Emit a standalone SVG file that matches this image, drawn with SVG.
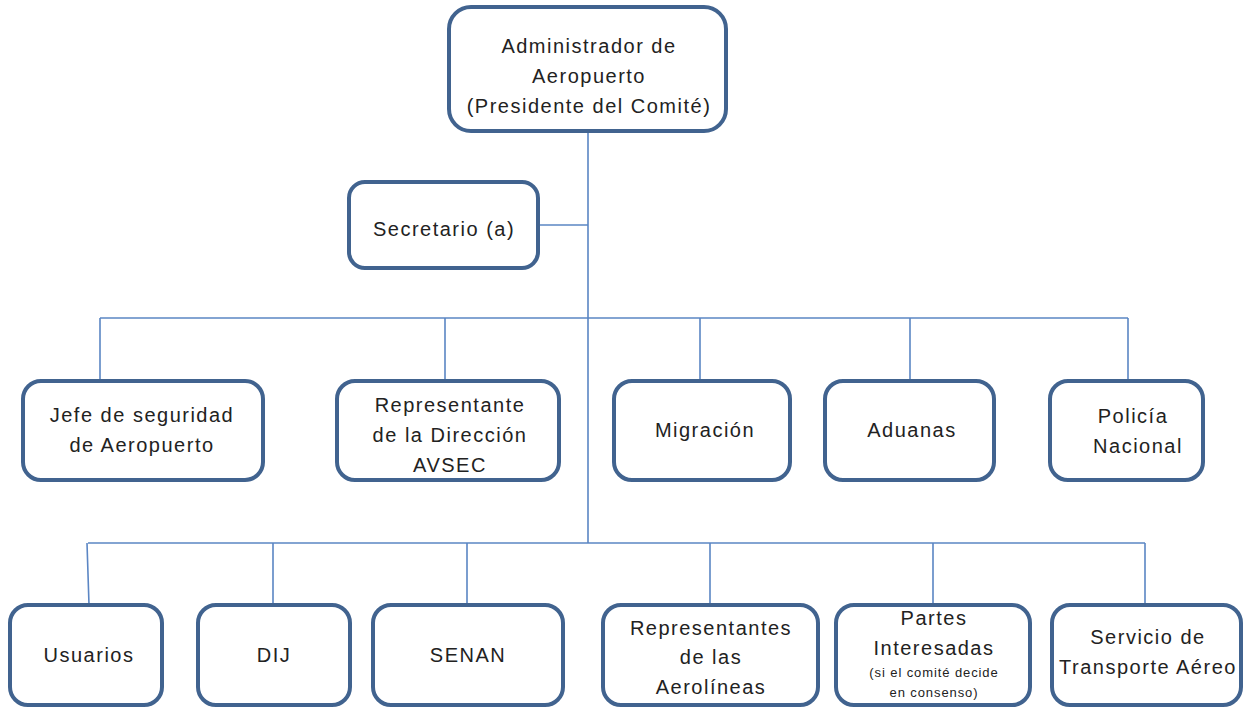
<svg xmlns="http://www.w3.org/2000/svg" width="1251" height="708" viewBox="0 0 1251 708">
<style>
.box{fill:#fff;stroke:#41638f;stroke-width:4}
.ln{stroke:#5b86c4;stroke-width:1.6;fill:none}
text{font-family:"Liberation Sans",Arial,sans-serif;font-size:20px;fill:#222;text-anchor:middle;letter-spacing:1.5px}
.sm{font-size:13px;letter-spacing:0.9px}
</style>
<rect width="1251" height="708" fill="#fff"/>
<g id="connectors">
<path class="ln" d="M588 131V543M538 225H588M100 318H1128M100 318V380M445 318V380M700 318V380M910 318V380M1128 318V380M88 543H1145M87 543L89 605M273 543V605M467 543V605M710 543V605M933 543V605M1145 543V605"/>
</g>
<g id="n-admin"><rect class="box" x="449" y="7" width="277" height="124" rx="22"/>
<text x="589" y="53">Administrador de</text><text x="589" y="83">Aeropuerto</text><text x="589" y="113">(Presidente del Comité)</text></g>
<g id="n-secretario"><rect class="box" x="349" y="182" width="189" height="86" rx="16"/>
<text x="444" y="236">Secretario (a)</text></g>
<g id="n-jefe"><rect class="box" x="23" y="381" width="240" height="99" rx="18"/>
<text x="142" y="422">Jefe de seguridad</text><text x="142" y="452">de Aeropuerto</text></g>
<g id="n-avsec"><rect class="box" x="337" y="381" width="222" height="99" rx="18"/>
<text x="450" y="412">Representante</text><text x="450" y="442">de la Dirección</text><text x="450" y="472">AVSEC</text></g>
<g id="n-migracion"><rect class="box" x="614" y="381" width="176" height="99" rx="18"/>
<text x="705" y="437">Migración</text></g>
<g id="n-aduanas"><rect class="box" x="825" y="381" width="169" height="99" rx="18"/>
<text x="912" y="437">Aduanas</text></g>
<g id="n-policia"><rect class="box" x="1050" y="381" width="153" height="99" rx="18"/>
<text x="1133" y="423">Policía</text><text x="1138" y="453">Nacional</text></g>
<g id="n-usuarios"><rect class="box" x="10" y="605" width="152" height="100" rx="18"/>
<text x="89" y="662">Usuarios</text></g>
<g id="n-dij"><rect class="box" x="198" y="605" width="152" height="100" rx="18"/>
<text x="274" y="662">DIJ</text></g>
<g id="n-senan"><rect class="box" x="373" y="605" width="190" height="100" rx="18"/>
<text x="468" y="662">SENAN</text></g>
<g id="n-aerolineas"><rect class="box" x="603" y="605" width="215" height="100" rx="18"/>
<text x="711" y="635">Representantes</text><text x="711" y="664">de las</text><text x="711" y="694">Aerolíneas</text></g>
<g id="n-partes"><rect class="box" x="836" y="605" width="194" height="100" rx="18"/>
<text x="934" y="625">Partes</text><text x="934" y="655">Interesadas</text><text class="sm" x="934" y="677">(si el comité decide</text><text class="sm" x="934" y="697">en consenso)</text></g>
<g id="n-servicio"><rect class="box" x="1052" y="605" width="189" height="100" rx="18"/>
<text x="1148" y="644">Servicio de</text><text x="1148" y="674">Transporte Aéreo</text></g>
</svg>
